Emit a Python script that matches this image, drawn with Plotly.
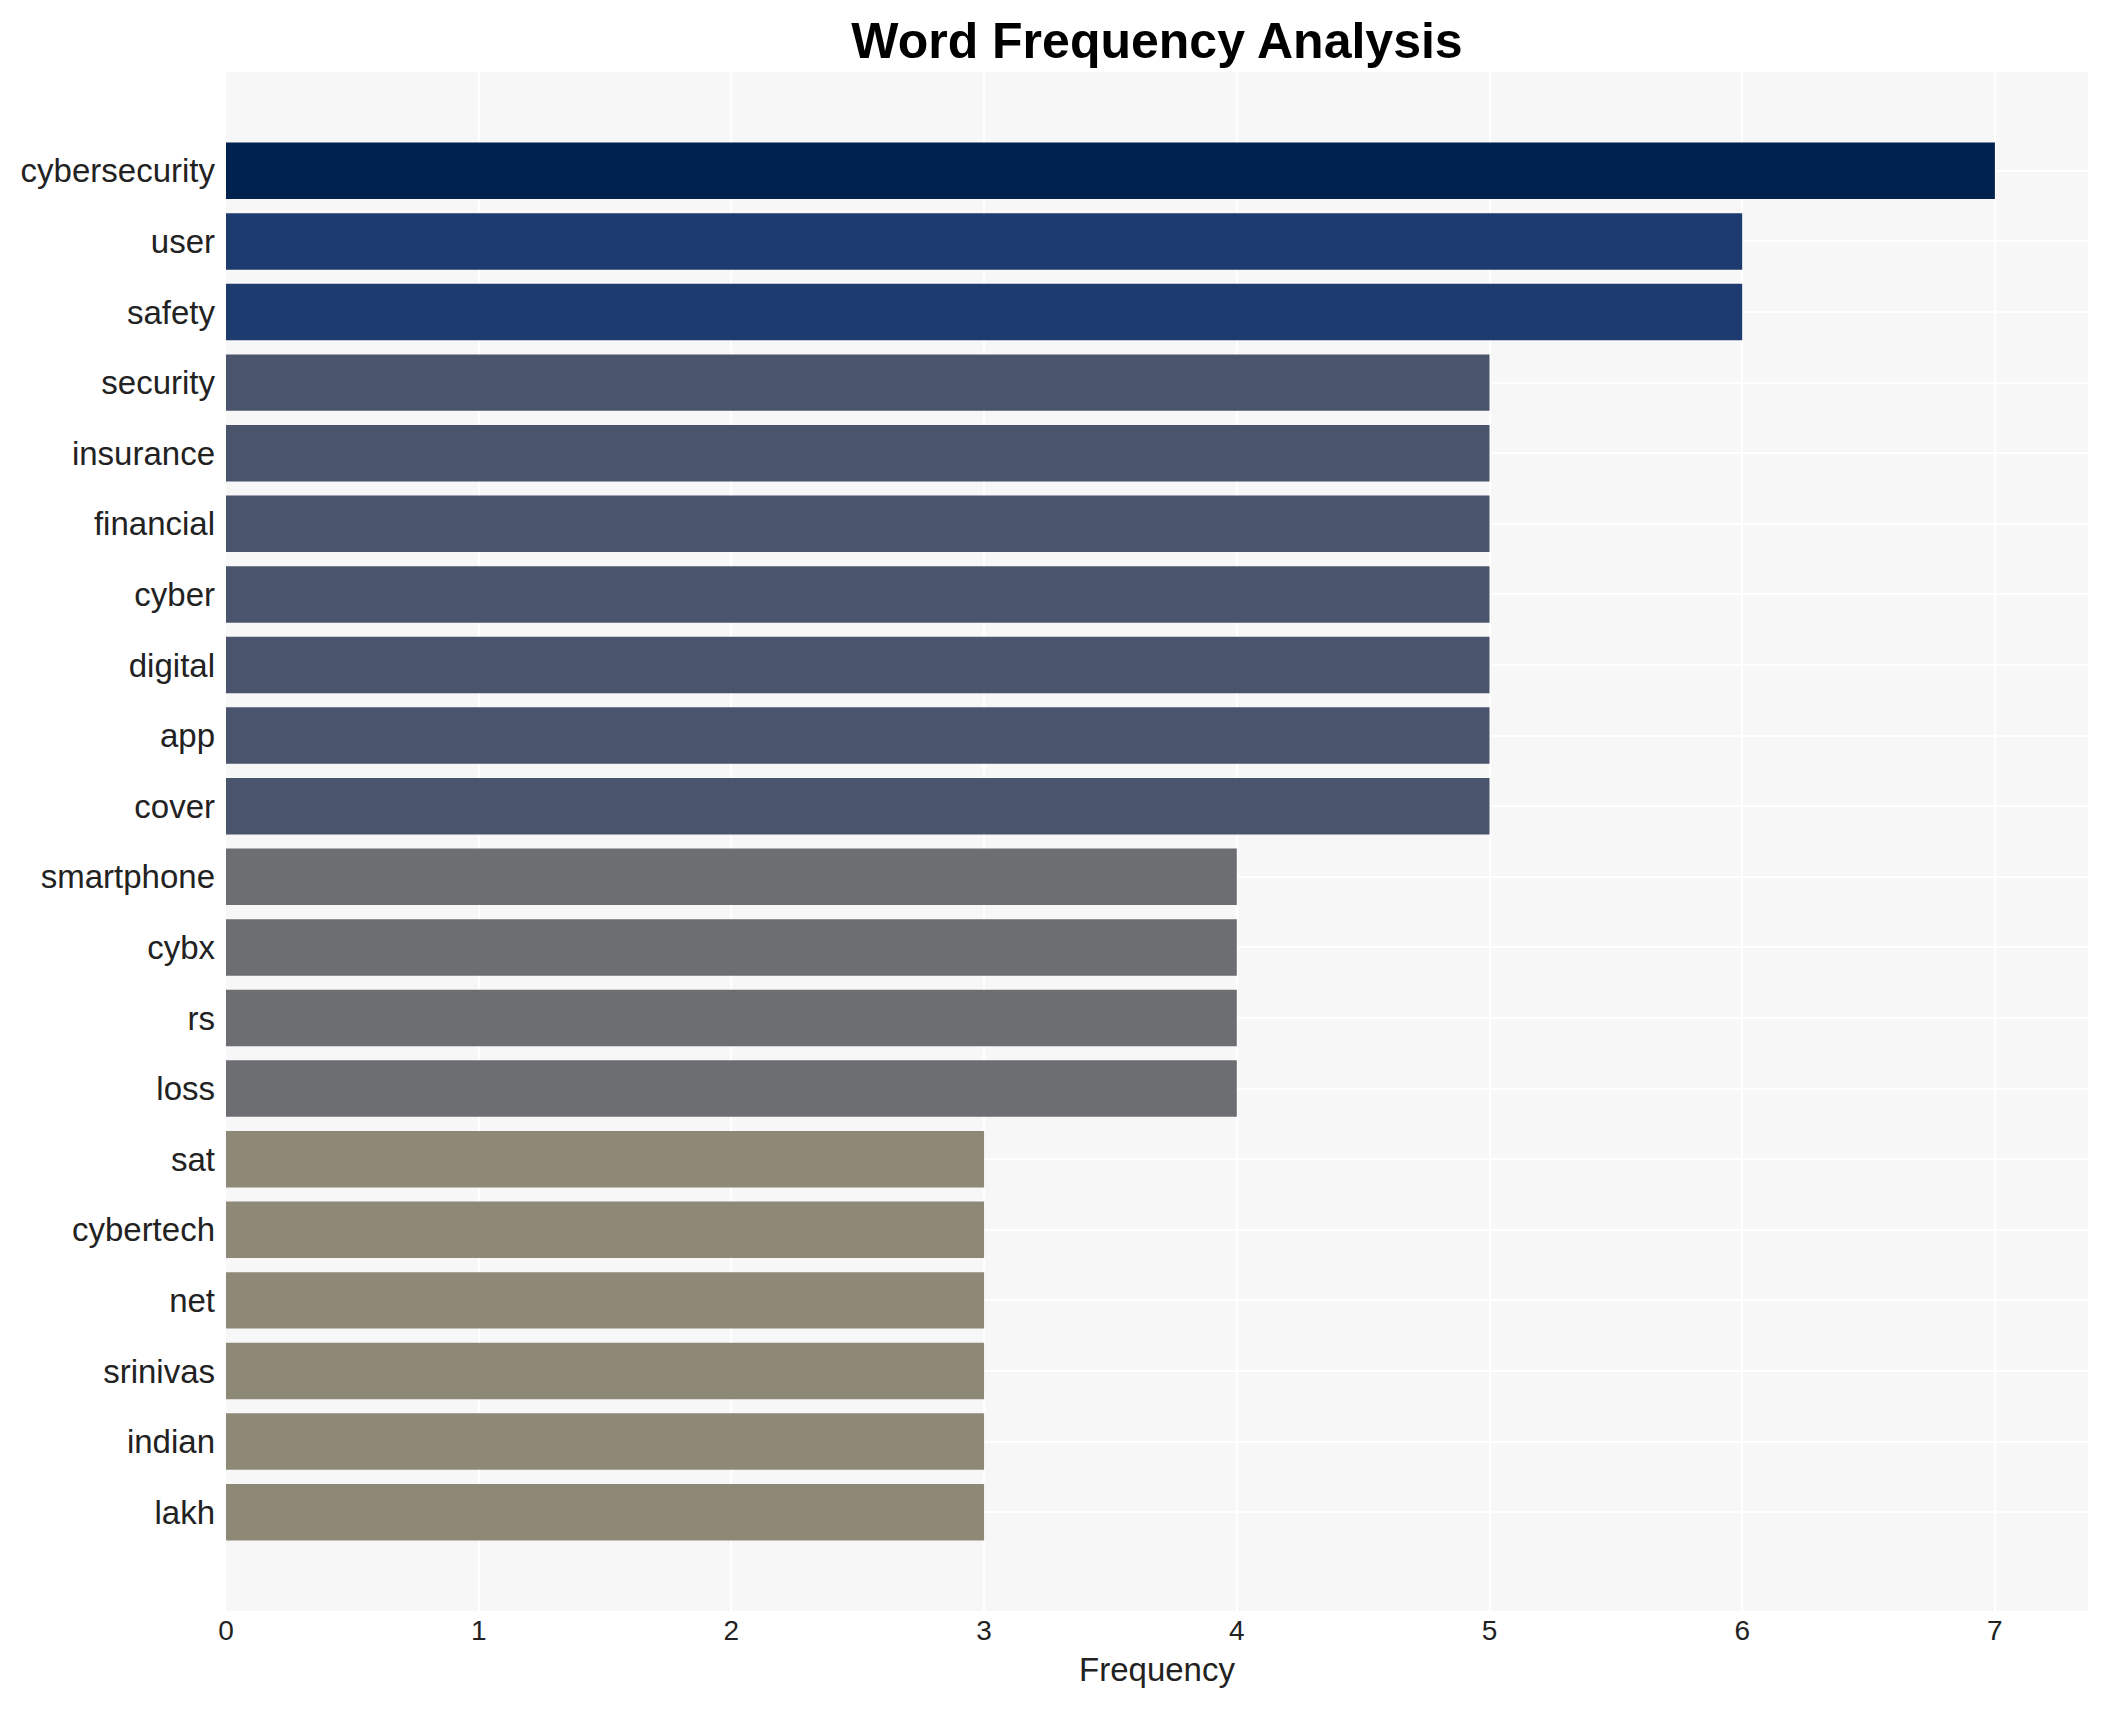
import plotly.graph_objects as go

words = ["cybersecurity", "user", "safety", "security", "insurance", "financial",
         "cyber", "digital", "app", "cover", "smartphone", "cybx", "rs", "loss",
         "sat", "cybertech", "net", "srinivas", "indian", "lakh"]
counts = [7, 6, 6, 5, 5, 5, 5, 5, 5, 5, 4, 4, 4, 4, 3, 3, 3, 3, 3, 3]

FONT = "Arial, Liberation Sans, Helvetica, sans-serif"

fig = go.Figure(
    go.Bar(
        x=counts,
        y=words,
        orientation="h",
        marker=dict(color=counts, colorscale="Cividis", reversescale=True,
                    cmin=0, cmax=max(counts), line=dict(width=0)),
        showlegend=False,
    )
)

fig.update_layout(
    width=2105,
    height=1710,
    autosize=False,
    paper_bgcolor="white",
    plot_bgcolor="#F7F7F7",
    margin=dict(l=218, r=25, t=64, b=107, pad=0),
    bargap=0.2,
    title=dict(text="<b>Word Frequency Analysis</b>", x=0.5, xref="paper",
               xanchor="center", y=1 - 32 / 1710, yanchor="middle",
               font=dict(family=FONT, size=50, color="black")),
    font=dict(family=FONT, color="#222222"),
)

fig.update_xaxes(
    title=dict(text="Frequency", font=dict(family=FONT, size=33, color="#222222"), standoff=12),
    tickfont=dict(family=FONT, size=28, color="#222222"),
    showgrid=True, gridcolor="white", gridwidth=1.5,
    zeroline=False, showline=False, ticks="",
    dtick=1, rangemode="tozero",
)
fig.update_yaxes(
    tickfont=dict(family=FONT, size=33, color="#222222"),
    ticklabelstandoff=10,
    showgrid=True, gridcolor="white", gridwidth=1.5,
    zeroline=False, showline=False, ticks="",
    categoryorder="array", categoryarray=words,
    range=[len(words) - 1 + 1.4, -1.4],
)

fig.write_html("out.html")
